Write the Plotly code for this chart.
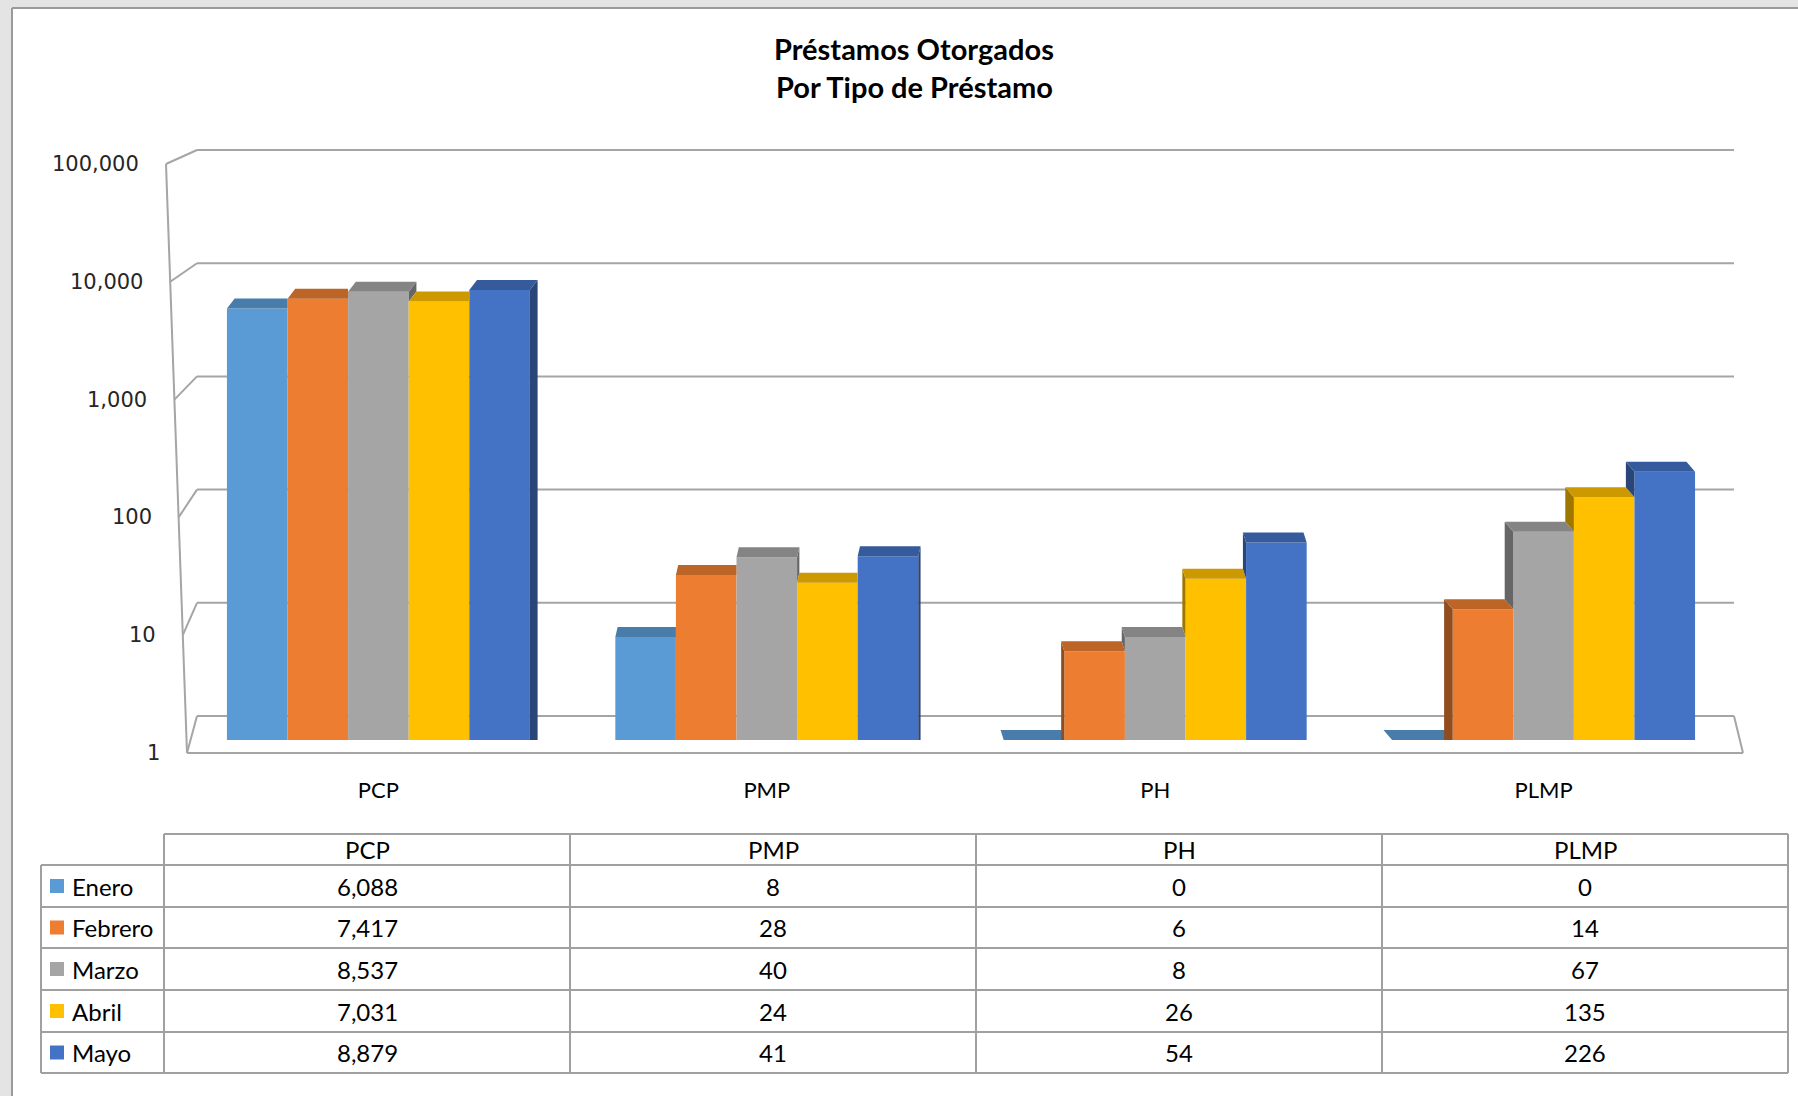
import math
import plotly.graph_objects as go

# ---------------- data ----------------
categories = ["PCP", "PMP", "PH", "PLMP"]
series_names = ["Enero", "Febrero", "Marzo", "Abril", "Mayo"]
enero = [6088, 8, 0, 0]
febrero = [7417, 28, 6, 14]
marzo = [8537, 40, 8, 67]
abril = [7031, 24, 26, 135]
mayo = [8879, 41, 54, 226]
series_values = [enero, febrero, marzo, abril, mayo]
y_tick_values = [1, 10, 100, 1000, 10000, 100000]
y_tick_labels = ["1", "10", "100", "1,000", "10,000", "100,000"]
title_lines = ["Préstamos Otorgados", "Por Tipo de Préstamo"]

colors = ["#5B9BD5", "#ED7D31", "#A5A5A5", "#FFC000", "#4472C4"]

# ---------------- layout constants (pixels) ----------------
W, H = 1798, 1096
PL, PR, PT = 175, 1740, 164
AX0 = 753          # pixel row of value 1 on the front (labelled) axis
PB = 740           # floor row where bars stand (value 1 at bar depth)
FRONT_PX_PER_DEC = (AX0 - PT) / 5.0
BAR_PX_PER_DEC = 114.0
XR = (-0.5237, 3.5057)
PX_PER_UNIT = (PR - PL) / (XR[1] - XR[0])
YR = (0.0, (PB - PT) / BAR_PX_PER_DEC)
FLOOR = 1.0
BARGAP = 0.22
NS = len(series_names)
BW = (1 - BARGAP) / NS


def xp(px):
    return (px - PL) / (PR - PL)


def yp(py):
    return (PB - py) / (PB - PT)


def darken(hexc, f):
    r, g, b = int(hexc[1:3], 16), int(hexc[3:5], 16), int(hexc[5:7], 16)
    return "#%02X%02X%02X" % (int(r * f), int(g * f), int(b * f))


fig = go.Figure()
xs = list(range(len(categories)))

for s, (name, vals) in enumerate(zip(series_names, series_values)):
    fig.add_trace(go.Bar(
        x=xs, y=vals, name=name, marker=dict(color=colors[s], line=dict(width=0)),
        showlegend=False,
    ))

# pseudo-3D caps and side faces derived from the data values
K = 10 ** (10 / BAR_PX_PER_DEC)
for s, vals in enumerate(series_values):
    cx, cy, sx, sy = [], [], [], []
    for c, v in enumerate(vals):
        center_px = PL + (c - XR[0]) * PX_PER_UNIT
        dx = (930 - center_px) * 0.014 / PX_PER_UNIT
        xc = c + (s - (NS - 1) / 2) * BW
        x0, x1 = xc - BW / 2, xc + BW / 2
        base = v if v > 0 else FLOOR
        nb = s + 1 if dx > 0 else s - 1
        nv = series_values[nb][c] if 0 <= nb < NS else 0
        taller = nv > base
        if dx > 0:
            pts = [(x0, base), (x1, base),
                   (x1 if taller else x1 + dx, base * K), (x0 + dx, base * K)]
        else:
            pts = [(x0, base), (x1, base), (x1 + dx, base * K),
                   (x0 if taller else x0 + dx, base * K)]
        for p in pts:
            cx.append(p[0]); cy.append(p[1])
        cx.append(None); cy.append(None)
        if v > 0:
            lo = max(nv, FLOOR)
            if lo < v:
                ex = x1 if dx > 0 else x0
                for p in [(ex, lo), (ex, v), (ex + dx, v * K), (ex + dx, lo * K if nv > 0 else FLOOR)]:
                    sx.append(p[0]); sy.append(p[1])
                sx.append(None); sy.append(None)
    fig.add_trace(go.Scatter(x=sx, y=sy, mode="lines", fill="toself",
                             fillcolor=darken(colors[s], 0.62), line=dict(width=0),
                             showlegend=False, hoverinfo="skip"))
    fig.add_trace(go.Scatter(x=cx, y=cy, mode="lines", fill="toself",
                             fillcolor=darken(colors[s], 0.8), line=dict(width=0),
                             showlegend=False, hoverinfo="skip"))

shapes = []
annotations = []
GRID = "#A5A5A5"
# page frame
shapes.append(dict(type="rect", xref="paper", yref="paper", x0=xp(0), x1=xp(12), y0=yp(0), y1=yp(H),
                   fillcolor="#E4E4E4", line=dict(width=0), layer="below"))
shapes.append(dict(type="rect", xref="paper", yref="paper", x0=xp(0), x1=xp(W), y0=yp(0), y1=yp(8),
                   fillcolor="#E4E4E4", line=dict(width=0), layer="below"))
shapes.append(dict(type="line", xref="paper", yref="paper", x0=xp(12), x1=xp(12), y0=yp(8), y1=yp(H),
                   line=dict(color="#9A9A9A", width=2)))
shapes.append(dict(type="line", xref="paper", yref="paper", x0=xp(12), x1=xp(W), y0=yp(8), y1=yp(8),
                   line=dict(color="#9A9A9A", width=2)))

# 3D frame: back wall gridlines, connectors, front axis, floor; value labels on the front axis
BACK_BOT, BACK_TOP = 716, 150
for i, lab in enumerate(y_tick_labels):
    by = BACK_BOT - i * (BACK_BOT - BACK_TOP) / 5
    fy = AX0 - math.log10(y_tick_values[i]) * FRONT_PX_PER_DEC
    fx = 166 + (187 - 166) * (fy - PT) / (AX0 - PT)
    shapes.append(dict(type="line", xref="paper", yref="paper", x0=xp(197), x1=xp(1734),
                       y0=yp(by), y1=yp(by), line=dict(color=GRID, width=2), layer="below"))
    shapes.append(dict(type="line", xref="paper", yref="paper", x0=xp(fx), x1=xp(197),
                       y0=yp(fy), y1=yp(by), line=dict(color=GRID, width=2), layer="below"))
    annotations.append(dict(xref="paper", yref="paper", x=xp(fx - 25), y=yp(fy), text=lab,
                            showarrow=False, xanchor="right", yanchor="middle",
                            font=dict(family="DejaVu Sans, sans-serif", size=21, color="#262626")))
shapes.append(dict(type="line", xref="paper", yref="paper", x0=xp(166), x1=xp(187),
                   y0=yp(PT), y1=yp(AX0), line=dict(color=GRID, width=2)))
shapes.append(dict(type="line", xref="paper", yref="paper", x0=xp(187), x1=xp(1743),
                   y0=yp(AX0), y1=yp(AX0), line=dict(color=GRID, width=2)))
shapes.append(dict(type="line", xref="paper", yref="paper", x0=xp(1743), x1=xp(1734),
                   y0=yp(AX0), y1=yp(BACK_BOT), line=dict(color=GRID, width=2)))

# data table
TB = "#A0A0A0"
col_x = [164, 570, 976, 1382, 1788]
leg_x = 41
row_y = [834, 865, 907, 948, 990, 1032, 1073]
shapes.append(dict(type="line", xref="paper", yref="paper", x0=xp(col_x[0]), x1=xp(col_x[-1]),
                   y0=yp(row_y[0]), y1=yp(row_y[0]), line=dict(color=TB, width=2)))
for ry in row_y[1:]:
    shapes.append(dict(type="line", xref="paper", yref="paper", x0=xp(leg_x), x1=xp(col_x[-1]),
                       y0=yp(ry), y1=yp(ry), line=dict(color=TB, width=2)))
for cxp in col_x:
    shapes.append(dict(type="line", xref="paper", yref="paper", x0=xp(cxp), x1=xp(cxp),
                       y0=yp(row_y[0]), y1=yp(row_y[-1]), line=dict(color=TB, width=2)))
shapes.append(dict(type="line", xref="paper", yref="paper", x0=xp(leg_x), x1=xp(leg_x),
                   y0=yp(row_y[1]), y1=yp(row_y[-1]), line=dict(color=TB, width=2)))

TFONT = dict(family="Lato, Noto Sans, sans-serif", size=24, color="#000000")
for j, cat in enumerate(categories):
    annotations.append(dict(xref="paper", yref="paper", x=xp((col_x[j] + col_x[j + 1]) / 2),
                            y=yp((row_y[0] + row_y[1]) / 2), text=cat, showarrow=False,
                            xanchor="center", yanchor="middle", font=TFONT))
for s, (name, vals) in enumerate(zip(series_names, series_values)):
    ymid = (row_y[s + 1] + row_y[s + 2]) / 2
    shapes.append(dict(type="rect", xref="paper", yref="paper", x0=xp(50), x1=xp(64),
                       y0=yp(ymid - 7), y1=yp(ymid + 7), fillcolor=colors[s], line=dict(width=0)))
    annotations.append(dict(xref="paper", yref="paper", x=xp(70), y=yp(ymid), text=name,
                            showarrow=False, xanchor="left", yanchor="middle", font=TFONT))
    for j, v in enumerate(vals):
        annotations.append(dict(xref="paper", yref="paper", x=xp((col_x[j] + col_x[j + 1]) / 2),
                                y=yp(ymid), text=f"{v:,}", showarrow=False,
                                xanchor="center", yanchor="middle", font=TFONT))

# title
for k, (line, ty) in enumerate(zip(title_lines, [48, 87])):
    annotations.append(dict(xref="paper", yref="paper", x=xp(914), y=yp(ty), text=f"<b>{line}</b>",
                            showarrow=False, xanchor="center", yanchor="middle",
                            font=dict(family="Lato, Noto Sans, sans-serif", size=29, color="#000000")))

fig.update_layout(
    width=W, height=H,
    margin=dict(l=PL, r=W - PR, t=PT, b=H - PB, pad=0),
    paper_bgcolor="white", plot_bgcolor="rgba(0,0,0,0)",
    barmode="group", bargap=BARGAP, bargroupgap=0,
    shapes=shapes, annotations=annotations,
    xaxis=dict(range=list(XR), tickvals=xs, ticktext=categories, showgrid=False, zeroline=False,
               showline=False, ticks="", ticklabelstandoff=35,
               tickfont=dict(family="Lato, Noto Sans, sans-serif", size=22, color="#000000")),
    yaxis=dict(type="log", range=list(YR), tickvals=y_tick_values, showticklabels=False,
               showgrid=False, zeroline=False, showline=False, ticks=""),
    showlegend=False,
)

fig.write_html("out.html", config={"displayModeBar": False},
               post_script="document.body.style.margin='0';document.body.style.overflow='hidden';")
